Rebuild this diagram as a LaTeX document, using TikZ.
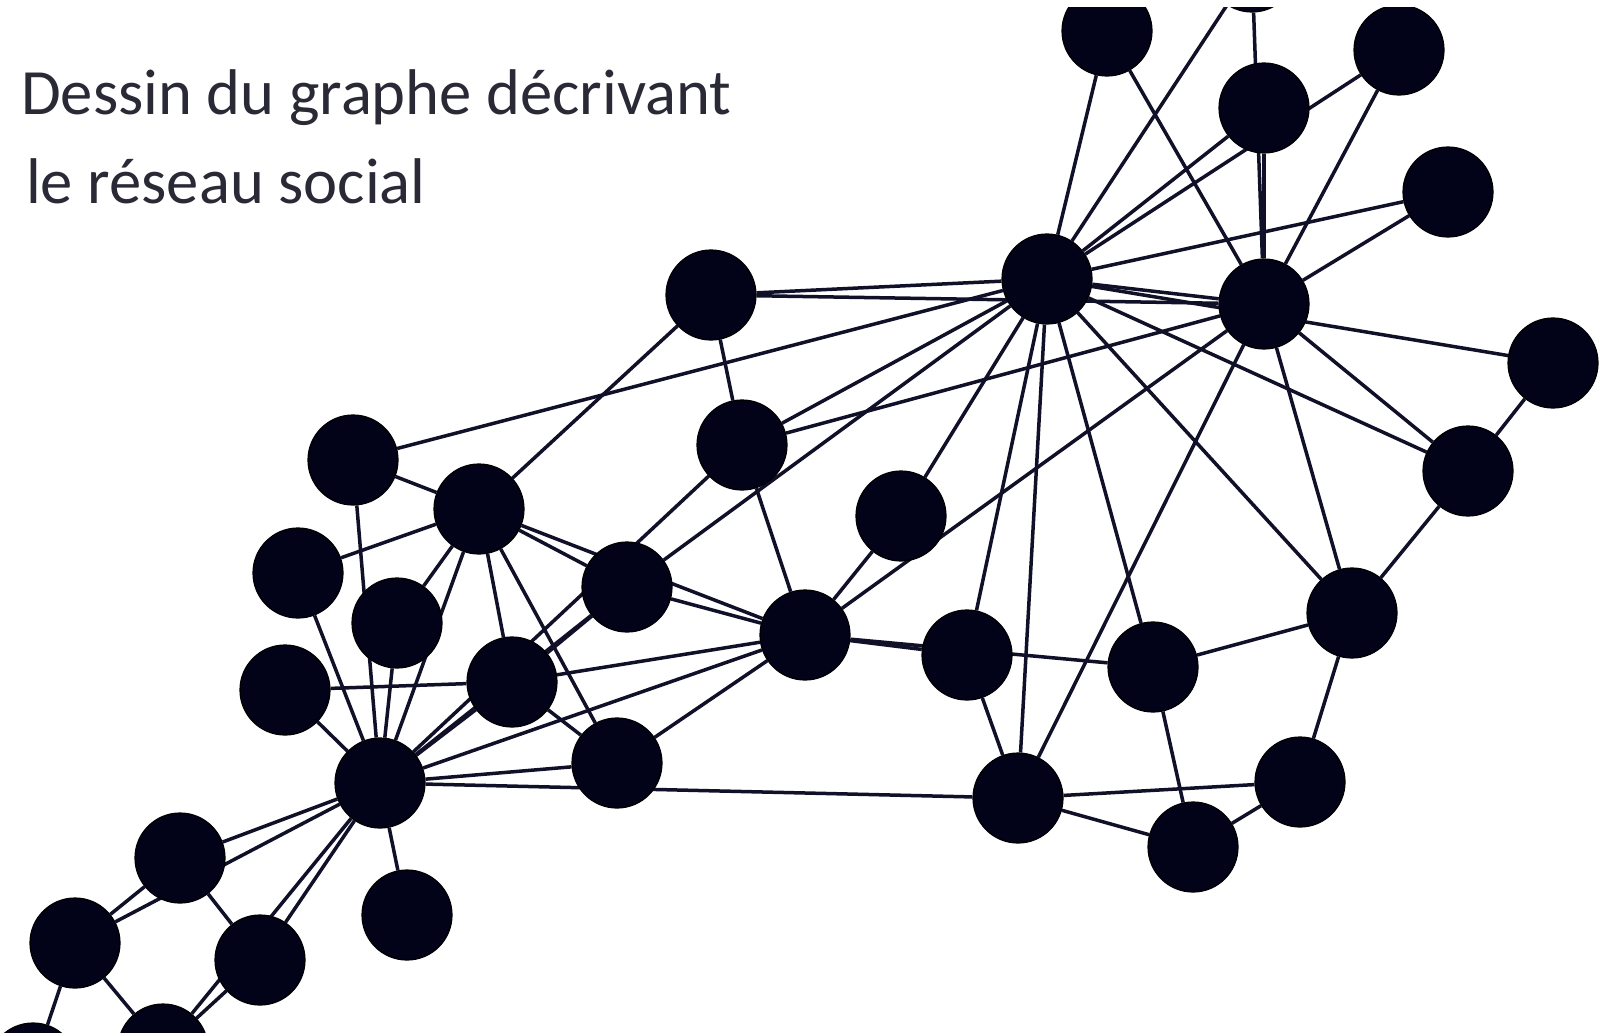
\documentclass[tikz,border=0pt]{standalone}
\usepackage{fontspec}
\setmainfont{Carlito}
\definecolor{nodefill}{RGB}{2,2,24}
\definecolor{edgecol}{RGB}{16,16,40}
\definecolor{textcol}{RGB}{42,42,54}
\pgfdeclarelayer{paper}
\pgfdeclarelayer{edges}
\pgfsetlayers{paper,edges,main}
\begin{document}
\begin{tikzpicture}[x=1bp,y=-1bp,
  vertex/.style={circle, fill=nodefill, draw=black, line width=1.2bp,
                 minimum size=90bp, inner sep=0pt},
  link/.style={draw=edgecol, line width=3.5bp},
  caption/.style={text=textcol, font=\fontsize{64.6bp}{77bp}\selectfont,
                  anchor=base west, inner sep=0pt}]
\useasboundingbox (0,0) rectangle (1602,1032);
\begin{pgfonlayer}{paper}
  \fill[white] (0,0) rectangle (1602,1032);
\end{pgfonlayer}

% vertices of the social network
\begin{scope}
\clip (0,7) rectangle (1602,1032);
\node[vertex] (v1)  at (380,783) {};
\node[vertex] (v2)  at (479,509) {};
\node[vertex] (v3)  at (805,635) {};
\node[vertex] (v4)  at (512,682) {};
\node[vertex] (v5)  at (260,960) {};
\node[vertex] (v6)  at (75,943) {};
\node[vertex] (v7)  at (163,1049) {};
\node[vertex] (v8)  at (617,763) {};
\node[vertex] (v9)  at (742,445) {};
\node[vertex] (v10) at (901,516) {};
\node[vertex] (v11) at (180,858) {};
\node[vertex] (v12) at (407,915) {};
\node[vertex] (v13) at (285,690) {};
\node[vertex] (v14) at (627,587) {};
\node[vertex] (v15) at (1107,31) {};
\node[vertex] (v16) at (1252,-33) {};
\node[vertex] (v17) at (33,1068) {};
\node[vertex] (v18) at (298,573) {};
\node[vertex] (v19) at (1399,50) {};
\node[vertex] (v20) at (353,460) {};
\node[vertex] (v21) at (1264,108) {};
\node[vertex] (v22) at (397,623) {};
\node[vertex] (v23) at (1448,192) {};
\node[vertex] (v24) at (1352,613) {};
\node[vertex] (v25) at (1193,847) {};
\node[vertex] (v26) at (1300,782) {};
\node[vertex] (v27) at (1553,363) {};
\node[vertex] (v28) at (1153,667) {};
\node[vertex] (v29) at (967,655) {};
\node[vertex] (v30) at (1468,471) {};
\node[vertex] (v31) at (711,295) {};
\node[vertex] (v32) at (1018,798) {};
\node[vertex] (v33) at (1264,304) {};
\node[vertex] (v34) at (1047,279) {};
\end{scope}

% friendships, drawn beneath the vertices
\begin{pgfonlayer}{edges}
\clip (0,7) rectangle (1602,1032);
\foreach \a/\b in {
  v1/v2, v1/v3, v1/v4, v1/v5, v1/v6, v1/v7, v1/v8, v1/v9, v1/v11, v1/v12,
  v1/v13, v1/v14, v1/v18, v1/v20, v1/v22, v1/v32,
  v2/v3, v2/v4, v2/v8, v2/v14, v2/v18, v2/v20, v2/v22, v2/v31,
  v3/v4, v3/v8, v3/v9, v3/v10, v3/v14, v3/v28, v3/v29, v3/v33,
  v4/v8, v4/v13, v4/v14,
  v5/v7, v5/v11, v6/v7, v6/v11, v6/v17, v7/v17,
  v9/v31, v9/v33, v9/v34, v10/v34, v14/v34,
  v15/v33, v15/v34, v16/v33, v16/v34, v19/v33, v19/v34,
  v21/v33, v21/v34, v23/v33, v23/v34, v20/v34,
  v24/v26, v24/v28, v24/v30, v24/v33, v24/v34,
  v25/v26, v25/v28, v25/v32, v27/v30, v27/v34, v28/v34,
  v29/v32, v29/v34, v30/v33, v30/v34, v31/v33, v31/v34,
  v32/v33, v32/v34, v26/v32, v33/v34}
  \draw[link] (\a) -- (\b);
\end{pgfonlayer}

% title
\node[caption] (title1) at (21,114) {Dessin du graphe décrivant};
\node[caption] (title2) at (26,203) {le réseau social};
\end{tikzpicture}
\end{document}
